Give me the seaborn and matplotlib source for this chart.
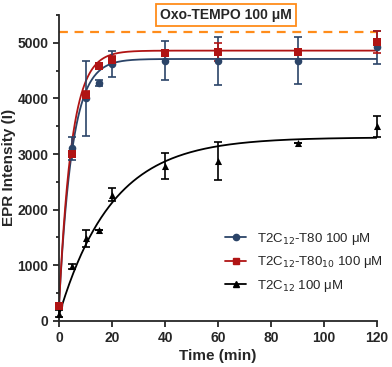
import numpy as np
import pandas as pd
import matplotlib
matplotlib.use("Agg")
import matplotlib.pyplot as plt
import seaborn as sns

# ---- data ----
time = [0, 5, 10, 15, 20, 40, 60, 90, 120]

t80_mean = [280, 3100, 4000, 4280, 4620, 4680, 4680, 4680, 4920]
t80_err = [40, 200, 680, 50, 230, 350, 430, 420, 300]

t8010_mean = [260, 3000, 4070, 4580, 4700, 4820, 4830, 4830, 5010]
t8010_err = [30, 60, 60, 40, 60, 50, 160, 40, 200]

t2c12_mean = [130, 980, 1480, 1630, 2270, 2780, 2880, 3200, 3500]
t2c12_err = [60, 50, 150, 0, 110, 230, 340, 0, 190]

# one-phase association fit parameters (Y0, plateau, k)
fit_t80 = (280, 4710, 0.20)
fit_t8010 = (260, 4860, 0.21)
fit_t2c12 = (100, 3300, 0.050)

reference_level = 5200

labels = ["T2C$_{12}$-T80 100 μM", "T2C$_{12}$-T80$_{10}$ 100 μM", "T2C$_{12}$ 100 μM"]
colors = ["#2B4468", "#B01414", "#000000"]
markers = ["o", "s", "^"]

sns.set_style("ticks")
plt.rcParams["font.family"] = ["Liberation Sans", "DejaVu Sans"]

fig = plt.figure(figsize=(3.92, 3.67), dpi=100)
ax = fig.add_axes([0.1505, 0.126, 0.8115, 0.833])

means = [t80_mean, t8010_mean, t2c12_mean]
errs = [t80_err, t8010_err, t2c12_err]
fits = [fit_t80, fit_t8010, fit_t2c12]

xs = np.linspace(0, 120, 400)
handles = []
for lab, c, m, mean, err, fit in zip(labels, colors, markers, means, errs, fits):
    y0, plat, k = fit
    yfit = y0 + (plat - y0) * (1 - np.exp(-k * xs))
    df_fit = pd.DataFrame({"t": xs, "y": yfit})
    sns.lineplot(data=df_fit, x="t", y="y", color=c, lw=1.3, ax=ax, zorder=2)
    ax.errorbar(time, mean, yerr=err, fmt="none", ecolor=c, elinewidth=1.2,
                capsize=3, capthick=1.2, zorder=3, clip_on=False)
    df = pd.DataFrame({"t": time, "y": mean})
    ms = 30 if m != "^" else 26
    sns.scatterplot(data=df, x="t", y="y", color=c, marker=m, s=ms,
                    edgecolor=c, linewidth=0, ax=ax, zorder=4, clip_on=False)
    h, = ax.plot([], [], color=c, marker=m, ms=4.5, lw=1.3, label=lab)
    handles.append(h)

ax.axhline(reference_level, color="#FF8C1A", lw=1.6, ls=(0, (4, 3)), zorder=1)

ax.set_xlim(0, 120)
ax.set_ylim(0, 5500)
ax.set_xticks([0, 20, 40, 60, 80, 100, 120])
ax.set_yticks([0, 1000, 2000, 3000, 4000, 5000])
ax.set_yticks(np.arange(500, 5600, 1000), minor=True)
ax.tick_params(axis="both", which="major", direction="out", length=4, width=1.3,
               labelsize=10)
ax.tick_params(axis="y", which="minor", direction="out", length=2.5, width=1.3)
for lbl in ax.get_xticklabels() + ax.get_yticklabels():
    lbl.set_fontweight("bold")
for s in ["left", "bottom"]:
    ax.spines[s].set_linewidth(1.3)
sns.despine(ax=ax)
ax.spines["left"].set_bounds(0, 5500)

ax.set_xlabel("Time (min)", fontsize=11, fontweight="bold", labelpad=3)
ax.set_ylabel("EPR Intensity (I)", fontsize=11, fontweight="bold", labelpad=1)

ax.legend(handles=handles, loc="lower right", bbox_to_anchor=(1.055, 0.05),
          frameon=False, fontsize=9.5, handlelength=1.6, handletextpad=0.8,
          labelspacing=0.55)

fig.text(0.577, 0.959, "Oxo-TEMPO 100 μM", ha="center", va="center",
         fontsize=10, fontweight="bold",
         bbox=dict(boxstyle="square,pad=0.3", fc="white", ec="#FF8C1A", lw=1.3))

fig.savefig("out.png", dpi=100)
